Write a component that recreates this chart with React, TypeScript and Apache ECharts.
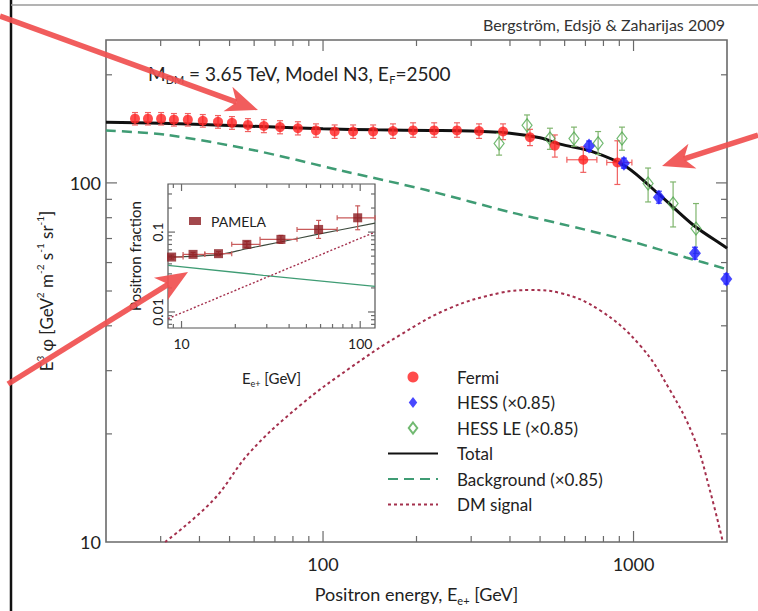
import React, { useEffect, useRef } from "react";
import * as echarts from "echarts";

const FONT = "Lato, 'Open Sans', sans-serif";

// ---- axis ranges ----
const X_RANGE = [20, 2000];
const Y_RANGE = [10, 250];
const IX_RANGE = [8.4, 121];
const IY_RANGE = [0.0063, 0.4];

// ---- tick values ----
const X_MAJOR_TICKS = [100, 1000];
const X_MINOR_TICKS = [30, 40, 50, 60, 70, 80, 90, 200, 300, 400, 500, 600, 700, 800, 900];
const Y_MAJOR_TICKS = [100];
const Y_MINOR_TICKS = [20, 30, 40, 50, 60, 70, 80, 90, 200];
const IX_MAJOR_TICKS = [10, 100];
const IX_MINOR_TICKS = [9, 20, 30, 40, 50, 60, 70, 80, 90];
const IY_MAJOR_TICKS = [0.01, 0.1];
const IY_MINOR_TICKS = [0.007, 0.008, 0.009, 0.02, 0.03, 0.04, 0.05, 0.06, 0.07, 0.08, 0.09, 0.2, 0.3];

// ---- Fermi ----
const fermiE = [24.8, 27.3, 30.1, 33.1, 36.7, 41.0, 45.9, 50.9, 57.3, 64.5, 72.7, 83.0, 94.9, 109, 125, 145, 168, 195, 228, 270, 318, 380, 464, 558, 689, 887];
const fermiV = [151, 151, 151, 150, 150, 149, 148, 147, 145, 144, 143, 142, 140, 139, 139, 139, 139.5, 140, 140, 140, 139.5, 139, 134, 127, 116, 114];
const fermiLo = [145, 145, 145, 144, 144, 143, 142, 141, 139, 138, 137, 136, 134, 133, 133, 133, 133, 134, 134, 134, 133, 132, 127, 118, 107, 99];
const fermiHi = [157, 157, 157, 156, 156, 155, 154, 153, 151, 150, 149, 148, 146, 145, 145, 145, 146, 147, 147, 147, 146, 146, 141, 136, 126, 131];
const fermiELo: (number | null)[] = [null, null, null, null, null, null, null, null, null, null, null, null, null, null, null, null, null, null, null, null, null, null, null, null, 610, 820];
const fermiEHi: (number | null)[] = [null, null, null, null, null, null, null, null, null, null, null, null, null, null, null, null, null, null, null, null, null, null, null, null, 762, 988];

// ---- HESS ----
const hessE = [719, 931, 1207, 1577, 1990];
const hessV = [126.6, 113.5, 91.2, 63.7, 54];
const hessLo = [122.6, 109.9, 87.8, 61.3, 52.3];
const hessHi = [130.8, 117.2, 94.8, 66.2, 55.8];

// ---- HESS LE ----
const hessLeE = [369, 454, 538, 643, 769, 918, 1114, 1341, 1589];
const hessLeV = [128.7, 144.8, 133, 133, 129, 133, 99.6, 87.6, 74.6];
const hessLeLo = [119.5, 134.5, 124, 126.5, 120, 123.3, 88.5, 75.4, 63.6];
const hessLeHi = [137.3, 154.6, 142, 143, 139, 143, 110, 100.6, 87.6];

// ---- model curves ----
const totalE = [20, 30, 45, 70, 100, 150, 220, 300, 400, 500, 580, 740, 950, 1216, 1560, 1970, 2000];
const totalV = [147.5, 146.5, 145, 143, 141.5, 140.5, 140, 139.5, 137.5, 133.5, 128.2, 122, 110.8, 92.4, 76.2, 66.4, 65.8];
const bgE = [20, 31.4, 59.4, 113, 215, 409, 580, 950, 1476, 2000];
const bgV = [140, 136, 123.5, 108.5, 95.5, 82.5, 77, 69.3, 62, 57.5];
const dmE = [31, 44.2, 58.2, 84.3, 122, 177, 256, 372, 464, 579, 779, 1049, 1310, 1578, 1763, 1940];
const dmV = [10, 13.05, 17.8, 24, 30.5, 37.7, 44.8, 49.4, 50.3, 49.4, 44.2, 35.3, 26.5, 19.2, 13.9, 10];

// ---- inset: PAMELA positron fraction ----
const pamE = [8.8, 11.6, 16.1, 23.2, 36, 58.5, 96.8];
const pamV = [0.0487, 0.0526, 0.0537, 0.0702, 0.0811, 0.108, 0.151];
const pamELo = [8.4, 10.2, 13.5, 19.1, 27.5, 44.3, 74.3];
const pamEHi = [10.2, 13.5, 19.1, 27.5, 44.3, 74.3, 121];
const pamLo = [0.046, 0.0497, 0.0507, 0.0644, 0.0723, 0.0833, 0.107];
const pamHi = [0.0516, 0.0557, 0.0569, 0.0765, 0.091, 0.14, 0.213];
const inTotE = [8.4, 16.1, 23.2, 35.7, 57.5, 121];
const inTotV = [0.0487, 0.0522, 0.062, 0.075, 0.0936, 0.1296];
const inBgE = [8.4, 28.7, 121];
const inBgV = [0.0383, 0.0288, 0.0209];
const inDmE = [8.4, 31.3, 121];
const inDmV = [0.00827, 0.0283, 0.1];

const DIAMOND = "path://M5 0 L10 6.5 L5 13 L0 6.5 Z";

const zip = (a: number[], b: number[]) => a.map((v, i) => [v, b[i]]);

const isDecade = (v: number) => Math.abs(Math.log10(v) - Math.round(Math.log10(v))) < 1e-6;

function tickSeries(idx: number, xr: number[], yr: number[], xMaj: number[], xMin: number[], yMaj: number[], yMin: number[], majLen: number, minLen: number) {
  const data: number[][] = [];
  xMaj.forEach((v) => data.push([v, yr[0], 0, 1]));
  xMin.forEach((v) => data.push([v, yr[0], 0, 0]));
  yMaj.forEach((v) => data.push([xr[0], v, 1, 1]));
  yMin.forEach((v) => data.push([xr[0], v, 1, 0]));
  return {
    type: "custom",
    xAxisIndex: idx,
    yAxisIndex: idx,
    silent: true,
    clip: false,
    z: 6,
    data,
    encode: { x: 0, y: 1 },
    renderItem: (params: any, api: any) => {
      const axis = api.value(2);
      const len = api.value(3) ? majLen : minLen;
      const st = { stroke: "#6a6a6a", lineWidth: 1.2 };
      if (axis === 0) {
        const v = api.value(0);
        const b = api.coord([v, yr[0]]);
        const t = api.coord([v, yr[1]]);
        return {
          type: "group",
          children: [
            { type: "line", shape: { x1: b[0], y1: b[1], x2: b[0], y2: b[1] - len }, style: st },
            { type: "line", shape: { x1: t[0], y1: t[1], x2: t[0], y2: t[1] + len }, style: st },
          ],
        };
      }
      const v = api.value(1);
      const l = api.coord([xr[0], v]);
      const r = api.coord([xr[1], v]);
      return {
        type: "group",
        children: [
          { type: "line", shape: { x1: l[0], y1: l[1], x2: l[0] + len, y2: l[1] }, style: st },
          { type: "line", shape: { x1: r[0], y1: r[1], x2: r[0] - len, y2: r[1] }, style: st },
        ],
      };
    },
  };
}

function errSeries(idx: number, color: string, E: number[], V: number[], lo: number[], hi: number[], eLo: (number | null)[] | null, eHi: (number | null)[] | null, cap: number, z: number) {
  const data = E.map((e, i) => [e, V[i], lo[i], hi[i], eLo && eLo[i] != null ? (eLo[i] as number) : e, eHi && eHi[i] != null ? (eHi[i] as number) : e]);
  return {
    type: "custom",
    xAxisIndex: idx,
    yAxisIndex: idx,
    silent: true,
    z,
    data,
    encode: { x: 0, y: 1 },
    renderItem: (params: any, api: any) => {
      const x = api.value(0), y = api.value(1);
      const pLo = api.coord([x, api.value(2)]);
      const pHi = api.coord([x, api.value(3)]);
      const pL = api.coord([api.value(4), y]);
      const pR = api.coord([api.value(5), y]);
      const st = { stroke: color, lineWidth: 1.2 };
      const ch: any[] = [
        { type: "line", shape: { x1: pLo[0], y1: pLo[1], x2: pHi[0], y2: pHi[1] }, style: st },
        { type: "line", shape: { x1: pLo[0] - cap, y1: pLo[1], x2: pLo[0] + cap, y2: pLo[1] }, style: st },
        { type: "line", shape: { x1: pHi[0] - cap, y1: pHi[1], x2: pHi[0] + cap, y2: pHi[1] }, style: st },
      ];
      if (pR[0] - pL[0] > 1) {
        ch.push({ type: "line", shape: { x1: pL[0], y1: pL[1], x2: pR[0], y2: pR[1] }, style: st });
        ch.push({ type: "line", shape: { x1: pL[0], y1: pL[1] - cap, x2: pL[0], y2: pL[1] + cap }, style: st });
        ch.push({ type: "line", shape: { x1: pR[0], y1: pR[1] - cap, x2: pR[0], y2: pR[1] + cap }, style: st });
      }
      return { type: "group", children: ch };
    },
  };
}

function arrow(x1: number, y1: number, x2: number, y2: number) {
  const dx = x2 - x1, dy = y2 - y1;
  const L = Math.hypot(dx, dy);
  const ux = dx / L, uy = dy / L;
  const px = -uy, py = ux;
  const headL = 32, headW = 13, notch = 9;
  const bx = x2 - ux * headL, by = y2 - uy * headL;
  const nx = x2 - ux * (headL - notch), ny = y2 - uy * (headL - notch);
  const color = "#f04f4f";
  return [
    { type: "line", z: 100, shape: { x1, y1, x2: nx, y2: ny }, style: { stroke: color, lineWidth: 5.5, opacity: 0.92 } },
    {
      type: "polygon", z: 100,
      shape: { points: [[x2, y2], [bx + px * headW, by + py * headW], [nx, ny], [bx - px * headW, by - py * headW]] },
      style: { fill: color, opacity: 0.92 },
    },
  ];
}

const option: any = {
  animation: false,
  backgroundColor: "#ffffff",
  textStyle: { fontFamily: FONT },
  grid: [
    { left: 106, top: 40, width: 621, height: 502, show: true, borderColor: "#6a6a6a", borderWidth: 1.6, backgroundColor: "transparent" },
    { left: 168, top: 184, width: 207, height: 144, show: true, borderColor: "#555", borderWidth: 1.2, backgroundColor: "#fff", z: 3 },
  ],
  xAxis: [
    {
      type: "log", gridIndex: 0, min: X_RANGE[0], max: X_RANGE[1],
      axisLine: { show: false }, axisTick: { show: false }, splitLine: { show: false },
      axisLabel: { formatter: (v: number) => (isDecade(v) ? String(Math.round(v)) : ""), fontSize: 18, color: "#222", margin: 13, fontFamily: FONT },
      name: "Positron energy, E{s|e+} [GeV]",
      nameLocation: "middle", nameGap: 40,
      nameTextStyle: { fontSize: 18, color: "#222", fontFamily: FONT, lineHeight: 24, rich: { s: { fontSize: 11, lineHeight: 12, verticalAlign: "bottom", fontFamily: FONT, color: "#222" } } },
    },
    {
      type: "log", gridIndex: 1, min: IX_RANGE[0], max: IX_RANGE[1],
      axisLine: { show: false }, axisTick: { show: false }, splitLine: { show: false },
      axisLabel: { formatter: (v: number) => (isDecade(v) ? String(Math.round(v)) : ""), fontSize: 14, color: "#222", margin: 8, fontFamily: FONT },
      name: "E{s|e+} [GeV]",
      nameLocation: "middle", nameGap: 40,
      nameTextStyle: { fontSize: 15, color: "#222", fontFamily: FONT, lineHeight: 20, rich: { s: { fontSize: 9, lineHeight: 10, verticalAlign: "bottom", fontFamily: FONT, color: "#222" } } },
    },
  ],
  yAxis: [
    {
      type: "log", gridIndex: 0, min: Y_RANGE[0], max: Y_RANGE[1],
      axisLine: { show: false }, axisTick: { show: false }, splitLine: { show: false },
      axisLabel: { formatter: (v: number) => (isDecade(v) ? String(Math.round(v)) : ""), fontSize: 18, color: "#222", margin: 5, fontFamily: FONT },
      name: "E{p|3} φ [GeV{p|2} m{p|-2} s{p|-1} sr{p|-1}]",
      nameLocation: "middle", nameGap: 36, nameRotate: 90,
      nameTextStyle: { fontSize: 17, color: "#222", fontFamily: FONT, lineHeight: 24, rich: { p: { fontSize: 10, lineHeight: 12, verticalAlign: "top", fontFamily: FONT, color: "#222" } } },
    },
    {
      type: "log", gridIndex: 1, min: IY_RANGE[0], max: IY_RANGE[1],
      axisLine: { show: false }, axisTick: { show: false }, splitLine: { show: false },
      axisLabel: { formatter: (v: number) => (isDecade(v) ? (v < 0.05 ? "0.01" : "0.1") : ""), fontSize: 14, color: "#222", margin: 4, rotate: 90, fontFamily: FONT },
      name: "Positron fraction",
      nameLocation: "middle", nameGap: 26, nameRotate: 90,
      nameTextStyle: { fontSize: 15, color: "#222", fontFamily: FONT },
    },
  ],
  legend: [
    {
      data: [
        { name: "Fermi", icon: "circle" },
        { name: "HESS (×0.85)", icon: DIAMOND },
        { name: "HESS LE (×0.85)", icon: DIAMOND },
        { name: "Total", itemStyle: { opacity: 0 } },
        { name: "Background (×0.85)", itemStyle: { opacity: 0 } },
        { name: "DM signal", itemStyle: { opacity: 0 } },
      ],
      orient: "vertical", left: 382, top: 362, itemWidth: 50, itemHeight: 11, itemGap: 5.5,
      symbolKeepAspect: true,
      textStyle: { fontSize: 17, lineHeight: 20, color: "#222", fontFamily: FONT, padding: [0, 0, 0, 14] },
      selectedMode: false,
    },
    {
      data: [{ name: "PAMELA", icon: "rect" }],
      orient: "vertical", left: 184, top: 207, itemWidth: 12, itemHeight: 8,
      symbolKeepAspect: true,
      textStyle: { fontSize: 14, lineHeight: 18, color: "#222", fontFamily: FONT, padding: [0, 0, 0, 5] },
      selectedMode: false,
    },
  ],
  series: [
    // main model curves
    { name: "Background (×0.85)", type: "line", xAxisIndex: 0, yAxisIndex: 0, data: zip(bgE, bgV), smooth: 0.3, symbol: "none", z: 2,
      lineStyle: { color: "#3f9c74", width: 2.5, type: [10, 6] }, itemStyle: { color: "#3f9c74", opacity: 0 } },
    { name: "DM signal", type: "line", xAxisIndex: 0, yAxisIndex: 0, data: zip(dmE, dmV), smooth: 0.4, symbol: "none", z: 2,
      lineStyle: { color: "#a4304d", width: 2, type: [3, 3] }, itemStyle: { color: "#a4304d", opacity: 0 } },
    { name: "Total", type: "line", xAxisIndex: 0, yAxisIndex: 0, data: zip(totalE, totalV), smooth: 0.3, symbol: "none", z: 3,
      lineStyle: { color: "#111", width: 3 }, itemStyle: { color: "#111", opacity: 0 } },
    // error bars
    errSeries(0, "#7fb56d", hessLeE, hessLeV, hessLeLo, hessLeHi, null, null, 3, 4),
    errSeries(0, "#f06060", fermiE, fermiV, fermiLo, fermiHi, fermiELo, fermiEHi, 3, 4),
    errSeries(0, "#4040ff", hessE, hessV, hessLo, hessHi, null, null, 3, 4),
    // data points
    { name: "HESS LE (×0.85)", type: "scatter", xAxisIndex: 0, yAxisIndex: 0, data: zip(hessLeE, hessLeV), symbol: "diamond", symbolSize: [10, 13], z: 5,
      itemStyle: { color: "rgba(255,255,255,0)", borderColor: "#4ea84e", borderWidth: 1.2 } },
    { name: "Fermi", type: "scatter", xAxisIndex: 0, yAxisIndex: 0, data: zip(fermiE, fermiV), symbol: "circle", symbolSize: 10, z: 5,
      itemStyle: { color: "#ff1f1f" } },
    { name: "HESS (×0.85)", type: "scatter", xAxisIndex: 0, yAxisIndex: 0, data: zip(hessE, hessV), symbol: "diamond", symbolSize: [12, 15], z: 5,
      itemStyle: { color: "#1a1aff" } },
    // inset
    { name: "inset-bg", type: "line", xAxisIndex: 1, yAxisIndex: 1, data: zip(inBgE, inBgV), symbol: "none", z: 4,
      lineStyle: { color: "#3f9c74", width: 1.3 } },
    { name: "inset-dm", type: "line", xAxisIndex: 1, yAxisIndex: 1, data: zip(inDmE, inDmV), symbol: "none", z: 4,
      lineStyle: { color: "#a4304d", width: 1.4, type: [2, 2] } },
    { name: "inset-total", type: "line", xAxisIndex: 1, yAxisIndex: 1, data: zip(inTotE, inTotV), smooth: 0.3, symbol: "none", z: 4,
      lineStyle: { color: "#3d4a3d", width: 1.1 } },
    errSeries(1, "#c85a5a", pamE, pamV, pamLo, pamHi, pamELo, pamEHi, 2.5, 5),
    { name: "PAMELA", type: "scatter", xAxisIndex: 1, yAxisIndex: 1, data: zip(pamE, pamV), symbol: "rect", symbolSize: 9, z: 6,
      itemStyle: { color: "#8b1a1f" } },
    // ticks
    tickSeries(0, X_RANGE, Y_RANGE, X_MAJOR_TICKS, X_MINOR_TICKS, Y_MAJOR_TICKS, Y_MINOR_TICKS, 11, 6),
    tickSeries(1, IX_RANGE, IY_RANGE, IX_MAJOR_TICKS, IX_MINOR_TICKS, IY_MAJOR_TICKS, IY_MINOR_TICKS, 7, 4),
  ],
  graphic: [
    { type: "line", z: 90, shape: { x1: 11, y1: 0, x2: 11, y2: 611 }, style: { stroke: "#111", lineWidth: 2.5 } },
    { type: "line", z: 90, shape: { x1: 11, y1: 5, x2: 758, y2: 5 }, style: { stroke: "#9a9a9a", lineWidth: 1.5 } },
    {
      type: "text", z: 50, x: 725, y: 24,
      style: { text: "Bergström, Edsjö & Zaharijas 2009", fontSize: 16, fontFamily: FONT, fill: "#333", align: "right", verticalAlign: "middle" },
    },
    {
      type: "text", z: 50, x: 148, y: 73,
      style: {
        text: "M{s|DM} = 3.65 TeV, Model N3, E{s|F}=2500", fontSize: 19, lineHeight: 24, fontFamily: FONT, fill: "#222", align: "left", verticalAlign: "middle",
        rich: { s: { fontSize: 11, lineHeight: 12, verticalAlign: "bottom", fontFamily: FONT, fill: "#222" } },
      },
    },
    ...arrow(0, 16, 258, 110),
    ...arrow(758, 135, 662, 166),
    ...arrow(8, 384, 188, 272),
  ],
};

export default function App() {
  const ref = useRef<HTMLDivElement>(null);
  useEffect(() => {
    document.body.style.margin = "0";
    const chart = echarts.init(ref.current as HTMLDivElement, null, { renderer: "svg", width: 758, height: 611 });
    chart.setOption(option);
    return () => chart.dispose();
  }, []);
  return <div ref={ref} style={{ position: "absolute", left: 0, top: 0, width: 758, height: 611, background: "#fff" }} />;
}
